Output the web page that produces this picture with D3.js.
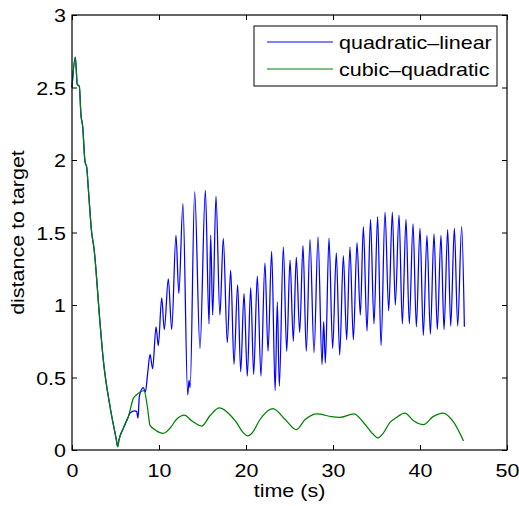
<!DOCTYPE html>
<html>
<head>
<meta charset="utf-8">
<script src="https://cdn.jsdelivr.net/npm/d3@7"></script>
<style>
  body { margin: 0; background: #fff; }
  text { font-family: "Liberation Sans", Arial, sans-serif; fill: #000; }
</style>
</head>
<body>
<svg id="chart" width="519" height="506"></svg>
<script>
// values
var xTicks = [0, 10, 20, 30, 40, 50];
var yTicks = [0, 0.5, 1, 1.5, 2, 2.5, 3];
var seriesNames = ["quadratic\u2013linear", "cubic\u2013quadratic"];

// shared start, both controllers follow the same path
var timeStart = [0, 0.38, 0.61, 0.84, 1.03, 1.23, 1.49, 1.69, 1.88, 2.26, 2.53, 3.22, 3.6, 4.37, 5.1, 5.25, 5.4, 5.9, 6.48];
var distStart = [2.50, 2.71, 2.52, 2.51, 2.31, 2.23, 1.99, 1.95, 1.80, 1.50, 1.39, 0.876, 0.62, 0.30, 0.07, 0.023, 0.07, 0.15, 0.23];

var timeQL = [6.67, 7.24, 7.43, 7.59, 7.74, 8.2, 8.43, 8.7, 8.97, 9.27, 9.66, 9.92, 10.31, 10.61, 11.07, 11.46, 11.95, 12.28,
  12.75, 13.3, 13.45, 13.58, 14.1, 14.71, 15.33, 15.75, 15.94, 16.17, 16.55, 17.0, 17.39, 17.85, 18.24, 18.62, 19.04, 19.39,
  19.77, 20.15, 20.54, 20.88, 21.3, 21.72, 22.18, 22.53, 22.95, 23.35, 23.6, 23.83, 24.29, 24.68, 25.06, 25.44, 25.78, 26.17,
  26.55, 26.93, 27.36, 27.82, 28.28, 28.74, 28.93, 29.12, 29.54, 29.96, 30.38, 30.77, 31.19, 31.57, 31.95, 32.34, 32.76, 33.14,
  33.49, 33.91, 34.31, 34.71, 35.13, 35.52, 35.98, 36.4, 36.82, 37.16, 37.59, 37.97, 38.39, 38.77, 39.2, 39.58, 40.0, 40.38,
  40.8, 41.19, 41.61, 41.99, 42.41, 42.76, 43.18, 43.53, 43.95, 44.33, 44.79, 45.1];
var distQL = [0.255, 0.27, 0.265, 0.22, 0.37, 0.43, 0.40, 0.53, 0.66, 0.56, 0.85, 0.72, 1.05, 0.83, 1.18, 0.83, 1.48, 1.08,
  1.70, 0.38, 0.48, 0.43, 1.78, 0.70, 1.79, 0.87, 1.48, 0.93, 1.75, 0.93, 1.46, 0.74, 1.24, 0.59, 1.14, 0.54,
  1.08, 0.51, 1.12, 0.52, 1.20, 0.51, 1.29, 0.68, 1.37, 0.41, 1.02, 0.44, 1.40, 0.68, 1.31, 0.75, 1.33, 0.81,
  1.41, 0.68, 1.45, 0.67, 1.47, 0.59, 0.885, 0.60, 1.46, 0.70, 1.36, 0.655, 1.34, 0.76, 1.40, 0.76, 1.43, 0.93,
  1.54, 0.82, 1.59, 0.87, 1.61, 0.72, 1.64, 0.96, 1.64, 1.00, 1.62, 0.87, 1.59, 0.87, 1.56, 0.85, 1.53, 0.79,
  1.48, 0.80, 1.49, 0.83, 1.48, 0.83, 1.52, 0.855, 1.53, 0.855, 1.54, 0.85];

var timeCQ = [7.05, 7.5, 7.82, 8.28, 8.66, 8.97, 9.54, 10.1, 10.5, 11.26, 12.0, 12.9, 13.8, 14.9, 15.9, 16.95, 18.2, 18.9,
  19.6, 20.2, 20.8, 21.5, 23.1, 24.5, 25.78, 26.8, 28.15, 28.7, 29.8, 30.8, 32.4, 33.5, 34.6, 35.15, 35.7, 36.55, 37.2, 38.25,
  39.3, 40.4, 41.5, 42.65, 43.83, 45.0];
var distCQ = [0.356, 0.385, 0.40, 0.41, 0.30, 0.17, 0.14, 0.12, 0.115, 0.15, 0.21, 0.24, 0.20, 0.165, 0.24, 0.29, 0.24, 0.19,
  0.125, 0.097, 0.125, 0.20, 0.285, 0.21, 0.14, 0.21, 0.25, 0.245, 0.23, 0.225, 0.25, 0.19, 0.11, 0.083, 0.11, 0.19, 0.22, 0.255,
  0.20, 0.175, 0.23, 0.255, 0.195, 0.062];

var colors = ["#0000ff", "#008000"];

var plotLeft = 72, plotTop = 15, plotRight = 507, plotBottom = 450;
var fontSize = 18.6, stretch = 1.155; // the original font is wider than Liberation Sans

var svg = d3.select("#chart");

var x = d3.scaleLinear().domain([0, 50]).range([plotLeft, plotRight]);
var y = d3.scaleLinear().domain([0, 3]).range([plotBottom, plotTop]);

function zip(t, d) { return t.map(function (v, i) { return [v, d[i]]; }); }
var start = zip(timeStart, distStart);
var lines = [start.concat(zip(timeQL, distQL)), start.concat(zip(timeCQ, distCQ))];

var line = d3.line()
  .x(function (d) { return x(d[0]); })
  .y(function (d) { return y(d[1]); })
  .curve(d3.curveMonotoneX);

var plot = svg.append("g");
plot.selectAll("path.series")
  .data(lines).enter()
  .append("path")
  .attr("class", "series")
  .attr("fill", "none")
  .attr("stroke", function (d, i) { return colors[i]; })
  .attr("stroke-width", 1.25)
  .attr("d", line);

// axes, ticks pointing inwards on all four sides
function tickStyle(g) {
  g.select(".domain").remove();
  g.selectAll(".tick line").attr("stroke", "#000").attr("stroke-width", 1);
}

var gx = svg.append("g").attr("transform", "translate(0," + plotBottom + ")")
  .call(d3.axisBottom(x).tickValues(xTicks).tickSizeInner(-5).tickSizeOuter(0).tickFormat(d3.format("d")));
gx.call(tickStyle);
gx.selectAll("text")
  .attr("y", 0).attr("dy", 0)
  .attr("transform", "translate(0,27) scale(" + stretch + ",1)")
  .style("font-size", fontSize + "px");

var gy = svg.append("g").attr("transform", "translate(" + plotLeft + ",0)")
  .call(d3.axisLeft(y).tickValues(yTicks).tickSizeInner(-5).tickSizeOuter(0).tickFormat(d3.format("")));
gy.call(tickStyle);
gy.selectAll("text")
  .attr("x", 0).attr("dy", 0)
  .attr("text-anchor", "end")
  .attr("transform", "translate(-6,6.6) scale(" + stretch + ",1)")
  .style("font-size", fontSize + "px");

svg.append("g").attr("transform", "translate(0," + plotTop + ")")
  .call(d3.axisTop(x).tickValues(xTicks).tickSizeInner(-5).tickSizeOuter(0).tickFormat(""))
  .call(tickStyle);
svg.append("g").attr("transform", "translate(" + plotRight + ",0)")
  .call(d3.axisRight(y).tickValues(yTicks).tickSizeInner(-5).tickSizeOuter(0).tickFormat(""))
  .call(tickStyle);

svg.append("rect")
  .attr("x", plotLeft).attr("y", plotTop)
  .attr("width", plotRight - plotLeft).attr("height", plotBottom - plotTop)
  .attr("fill", "none").attr("stroke", "#000").attr("stroke-width", 1.2);

// axis titles
svg.append("text")
  .attr("text-anchor", "middle")
  .attr("transform", "translate(" + ((plotLeft + plotRight) / 2) + ",497) scale(" + stretch + ",1)")
  .style("font-size", fontSize + "px")
  .text("time (s)");

svg.append("text")
  .attr("text-anchor", "middle")
  .attr("transform", "translate(24," + ((plotTop + plotBottom) / 2) + ") rotate(-90) scale(" + stretch + ",1)")
  .style("font-size", fontSize + "px")
  .text("distance to target");

// legend
var legend = svg.append("g");
legend.append("rect")
  .attr("x", 254).attr("y", 26).attr("width", 243).attr("height", 60)
  .attr("fill", "#fff").attr("stroke", "#000").attr("stroke-width", 1);

var items = legend.selectAll("g.item")
  .data(seriesNames).enter()
  .append("g")
  .attr("class", "item")
  .attr("transform", function (d, i) { return "translate(267," + (42 + i * 27) + ")"; });
items.append("line")
  .attr("x1", 0).attr("x2", 66)
  .attr("stroke", function (d, i) { return colors[i]; })
  .attr("stroke-width", 1.2);
items.append("text")
  .attr("transform", "translate(72,6.6) scale(" + stretch + ",1)")
  .style("font-size", fontSize + "px")
  .text(function (d) { return d; });
</script>
</body>
</html>
